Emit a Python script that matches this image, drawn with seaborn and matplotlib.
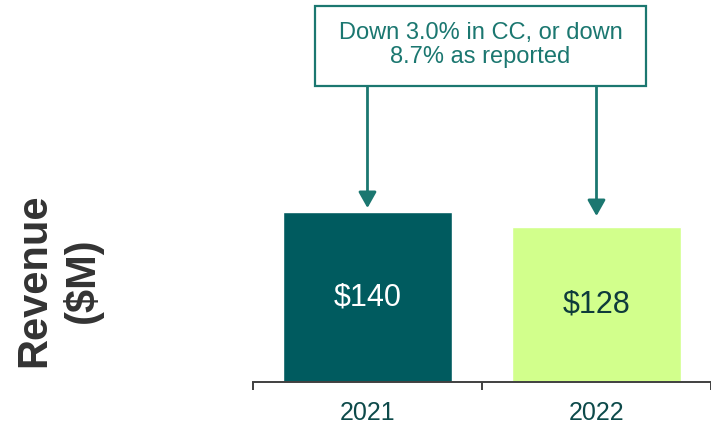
import matplotlib
matplotlib.use('Agg')
import matplotlib.pyplot as plt
import seaborn as sns
from matplotlib.patches import Rectangle

# Data
years = ['2021', '2022']
revenue = [140, 128]
bar_colors = ['#005B5F', '#D2FF8C']
label_colors = ['white', '#0E3B3B']
note_text = 'Down 3.0% in CC, or down\n8.7% as reported'

teal = '#1B7770'

sns.set_theme(style='white')
plt.rcParams['font.family'] = ['Liberation Sans', 'DejaVu Sans']

fig = plt.figure(figsize=(7.11, 4.32), dpi=100)
ax = fig.add_axes([0.3558, 0.1157, 0.6442, 0.8843])

sns.barplot(x=years, y=revenue, hue=years, palette=bar_colors, legend=False,
            width=0.735, saturation=1, ax=ax)

ax.set_xlim(-0.5, 1.5)
ax.set_ylim(0, 314.7)

# Value labels inside bars
for cont, col in zip(ax.containers, label_colors):
    ax.bar_label(cont, labels=[f'${v:.0f}' for v in cont.datavalues],
                 label_type='center', color=col, fontsize=22)

# Axis styling
sns.despine(ax=ax, left=True)
ax.set_yticks([])
ax.spines['bottom'].set_color('#404040')
ax.spines['bottom'].set_linewidth(1.4)
ax.set_xticks([-0.5, 0.5, 1.5])
ax.set_xticklabels([])
ax.tick_params(axis='x', which='major', bottom=True, length=6, width=1.4,
               color='#404040', direction='out')
ax.set_xticks([0, 1], minor=True)
ax.set_xticklabels(years, minor=True)
ax.tick_params(axis='x', which='minor', length=0, pad=14, labelsize=18,
               labelcolor='#0D4A4A')

# Annotation box with arrows down to each bar
box_x0, box_x1 = -0.229, 1.216
box_y0, box_y1 = 243.8, 309.7
ax.add_patch(Rectangle((box_x0, box_y0), box_x1 - box_x0, box_y1 - box_y0,
                       facecolor='white', edgecolor=teal, linewidth=1.6,
                       clip_on=False, zorder=5))
ax.text((box_x0 + box_x1) / 2, (box_y0 + box_y1) / 2 + 1, note_text,
        ha='center', va='center', fontsize=17, color=teal, linespacing=1.15,
        zorder=6)

arrow_gap = [3.3, 8.7]
for i, (v, g) in enumerate(zip(revenue, arrow_gap)):
    ax.annotate('', xy=(i, v + g), xytext=(i, box_y0),
                arrowprops=dict(arrowstyle='-|>,head_length=0.8,head_width=0.45',
                                color=teal, lw=2.0, shrinkA=0, shrinkB=0))

# Y label
fig.text(0.082, 0.352, 'Revenue\n($M)', rotation=90, ha='center', va='center',
         multialignment='center', fontsize=30, fontweight='bold',
         color='#333333', linespacing=1.25)

plt.savefig('out.png', dpi=100)
plt.close()
